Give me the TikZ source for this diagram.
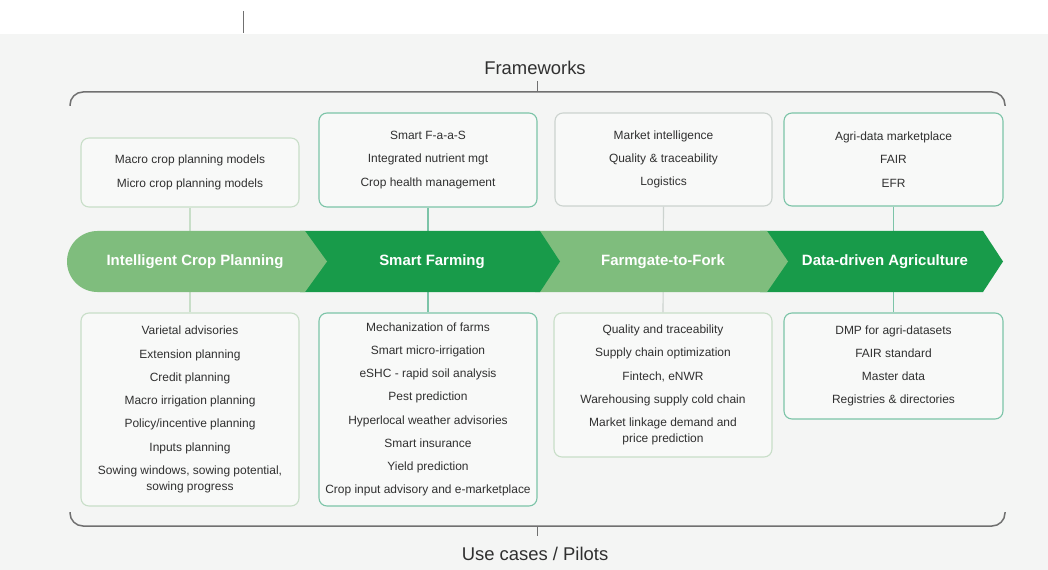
\documentclass[tikz,border=0pt]{standalone}
\usepackage{fontspec}
\setmainfont{Liberation Sans}
\definecolor{pagebg}{RGB}{244,245,244}
\definecolor{boxfill}{RGB}{248,249,248}
\definecolor{txt}{RGB}{48,48,48}
\definecolor{leafpale}{RGB}{200,222,200}
\definecolor{greypale}{RGB}{204,211,207}
\definecolor{teal}{RGB}{124,196,168}
\definecolor{bandlight}{RGB}{127,189,125}
\definecolor{banddark}{RGB}{24,155,74}
\definecolor{bracegrey}{RGB}{112,112,112}
\begin{document}
\begin{tikzpicture}[x=1bp,y=-1bp,
  box/.style={draw, rounded corners=8bp, fill=boxfill, line width=1.1bp,
    align=center, inner sep=0pt, text=txt,
    font=\fontsize{12}{16}\selectfont},
  paleframe/.style={box, draw=leafpale},
  greyframe/.style={box, draw=greypale},
  tealframe/.style={box, draw=teal},
  link/.style={line width=1.1bp},
  bandlabel/.style={text=white, font=\fontsize{15}{18}\selectfont\bfseries},
  brace/.style={draw=bracegrey, line width=1.5bp, rounded corners=13bp},
  tick/.style={draw=bracegrey, line width=0.9bp},
  heading/.style={text=txt, font=\fontsize{18.5}{22}\selectfont, anchor=base},
]
\useasboundingbox (0,0) rectangle (1048,570);
% page background
\fill[pagebg] (0,34) rectangle (1048,570);
\draw[tick] (243,11) -- (243,33);

% headings and braces
\node[heading] (fw) at (535,75) {Frameworks};
\node[heading] (uc) at (535,560) {Use cases / Pilots};
\draw[brace] (70,106) -- (70,92) -- (1005,92) -- (1005,106);
\draw[brace] (70,512) -- (70,526) -- (1005,526) -- (1005,512);
\coordinate (fwtick) at (537,92);
\coordinate (uctick) at (537,526);
\draw[tick] (fwtick) -- ++(0,-11);
\draw[tick] (uctick) -- ++(0,10);

% framework boxes
\node[paleframe, minimum width=218bp, minimum height=69bp] (b1) at (190,172.5)
  {Macro crop planning models\\[7.3bp]Micro crop planning models};
\node[tealframe, minimum width=218bp, minimum height=94bp] (b2) at (428,160)
  {Smart F-a-a-S\\[7.3bp]Integrated nutrient mgt\\[7.3bp]Crop health management};
\node[greyframe, minimum width=217bp, minimum height=93bp] (b3) at (663.5,159.5)
  {Market intelligence\\[7.3bp]Quality \& traceability\\[7.3bp]Logistics};
\node[tealframe, minimum width=219bp, minimum height=93bp] (b4) at (893.5,159.5)
  {Agri-data marketplace\\[7.3bp]FAIR\\[7.3bp]EFR};

% use-case boxes
\node[paleframe, minimum width=218bp, minimum height=193bp] (b5) at (190,409.5)
  {Varietal advisories\\[7.3bp]Extension planning\\[7.3bp]Credit planning\\[7.3bp]Macro irrigation planning\\[7.3bp]Policy/incentive planning\\[7.3bp]Inputs planning\\[7.3bp]Sowing windows, sowing potential,\\sowing progress};
\node[tealframe, minimum width=218bp, minimum height=193bp] (b6) at (428,409.5)
  {Mechanization of farms\\[7.3bp]Smart micro-irrigation\\[7.3bp]eSHC - rapid soil analysis\\[7.3bp]Pest prediction\\[7.3bp]Hyperlocal weather advisories\\[7.3bp]Smart insurance\\[7.3bp]Yield prediction\\[7.3bp]Crop input advisory and e-marketplace};
\node[paleframe, minimum width=218bp, minimum height=144bp] (b7) at (663,385)
  {Quality and traceability\\[7.3bp]Supply chain optimization\\[7.3bp]Fintech, eNWR\\[7.3bp]Warehousing supply cold chain\\[7.3bp]Market linkage demand and\\price prediction};
\node[tealframe, minimum width=219bp, minimum height=106bp] (b8) at (893.5,366)
  {DMP for agri-datasets\\[7.3bp]FAIR standard\\[7.3bp]Master data\\[7.3bp]Registries \& directories};

% connectors running behind the band
\draw[link, draw=leafpale] (b1.south) -- (b5.north);
\draw[link, draw=teal] (b2.south) -- (b6.north);
\draw[link, draw=greypale] (b3.south) -- (b7.north);
\draw[link, draw=teal] (b4.south) -- (b8.north);

% chevron band
\fill[banddark] (760,231) -- (983,231) -- (1003,261.5) -- (983,292) -- (760,292) -- cycle;
\fill[bandlight] (535,231) -- (767,231) -- (788,261.5) -- (767,292) -- (535,292) -- cycle;
\fill[banddark] (300,231) -- (540,231) -- (560,261.5) -- (540,292) -- (300,292) -- cycle;
\fill[bandlight] (97.5,231) -- (305,231) -- (327,261.5) -- (305,292) -- (97.5,292) -- cycle;
\fill[bandlight] (97.5,261.5) circle[radius=30.5bp];

\node[bandlabel] (p1) at (195,261.5) {Intelligent Crop Planning};
\node[bandlabel] (p2) at (432,261.5) {Smart Farming};
\node[bandlabel] (p3) at (663,261.5) {Farmgate-to-Fork};
\node[bandlabel] (p4) at (885,261.5) {Data-driven Agriculture};
\end{tikzpicture}
\end{document}
